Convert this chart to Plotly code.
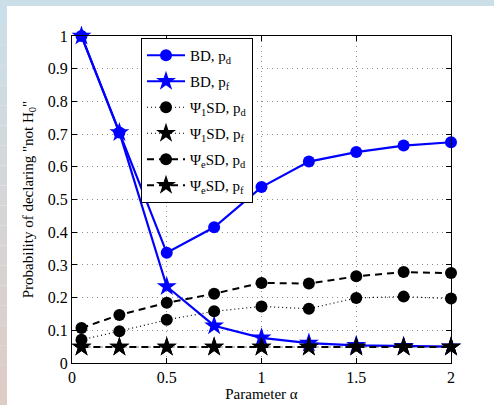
import plotly.graph_objects as go

alpha = [0.05, 0.25, 0.5, 0.75, 1.0, 1.25, 1.5, 1.75, 2.0]
bd_pd = [1.0, 0.705, 0.337, 0.415, 0.538, 0.616, 0.645, 0.665, 0.675]
bd_pf = [1.0, 0.705, 0.234, 0.114, 0.077, 0.061, 0.054, 0.051, 0.050]
psi1_pd = [0.071, 0.097, 0.132, 0.158, 0.173, 0.166, 0.199, 0.203, 0.197]
psi1_pf = [0.049, 0.049, 0.049, 0.049, 0.049, 0.049, 0.049, 0.049, 0.049]
psie_pd = [0.107, 0.147, 0.184, 0.212, 0.245, 0.243, 0.265, 0.278, 0.275]
psie_pf = [0.049, 0.049, 0.049, 0.049, 0.049, 0.049, 0.049, 0.049, 0.049]

names = ["BD, p<sub>d</sub>", "BD, p<sub>f</sub>",
         "Ψ<sub>1</sub>SD, p<sub>d</sub>", "Ψ<sub>1</sub>SD, p<sub>f</sub>",
         "Ψ<sub>e</sub>SD, p<sub>d</sub>", "Ψ<sub>e</sub>SD, p<sub>f</sub>"]
series = [bd_pd, bd_pf, psi1_pd, psi1_pf, psie_pd, psie_pf]
colors = ["#0000ff", "#0000ff", "black", "black", "black", "black"]
dashes = ["solid", "solid", "1px,3px", "1px,3px", "7px,5px", "7px,5px"]
widths = [2.2, 2.2, 1.2, 1.2, 2.0, 2.0]
symbols = ["circle", "star", "circle", "star", "circle", "star"]
sizes = [12, 15, 12, 15, 12, 15]

fig = go.Figure()
for i, (nm, ys) in enumerate(zip(names, series)):
    fig.add_trace(go.Scatter(
        x=alpha, y=ys, name=nm, mode="lines+markers",
        line=dict(color=colors[i], dash=dashes[i], width=widths[i]),
        marker=dict(symbol=symbols[i], size=sizes[i], color=colors[i],
                    line=dict(width=0)),
        cliponaxis=False, legendgroup=f"g{i}"))

W, H = 494, 405
ml, mr, mt, mb = 72, 43, 36, 42
pw, ph = W - ml - mr, H - mt - mb

def px_x(p):
    return (p - ml) / pw

def px_y(p):
    return (H - mb - p) / ph

shapes = []
# left gradient strip
top = (203, 223, 232)
bot = (222, 204, 198)
n = 20
for k in range(n):
    t = k / (n - 1)
    c = tuple(int(round(top[j] + (bot[j] - top[j]) * t)) for j in range(3))
    shapes.append(dict(type="rect", xref="paper", yref="paper",
                       x0=px_x(0), x1=px_x(7),
                       y0=px_y(6 + (H - 6) * k / n), y1=px_y(6 + (H - 6) * (k + 1) / n),
                       fillcolor=f"rgb{c}", line=dict(width=0), layer="below"))
# top strip
shapes.append(dict(type="rect", xref="paper", yref="paper",
                   x0=px_x(0), x1=px_x(W), y0=px_y(0), y1=px_y(6),
                   fillcolor="rgb(203,223,232)", line=dict(width=0), layer="below"))

axis_common = dict(ticks="inside", ticklen=5, tickcolor="black",
                   showline=True, linecolor="black", linewidth=1.3, mirror="ticks",
                   showgrid=True, gridcolor="#8c8c8c", griddash="1px,4px", gridwidth=1,
                   zeroline=False, tickfont=dict(size=16), automargin=False)

fig.update_layout(
    width=W, height=H,
    margin=dict(l=ml, r=mr, t=mt, b=mb, pad=0, autoexpand=False),
    paper_bgcolor="white", plot_bgcolor="white",
    font=dict(family="Liberation Serif, Times New Roman, serif", size=16, color="black"),
    shapes=shapes,
    showlegend=True,
    legend=dict(x=px_x(141), y=px_y(38), xanchor="left", yanchor="top",
                bgcolor="white", bordercolor="black", borderwidth=1,
                font=dict(size=15), itemwidth=38, tracegroupgap=3.5,
                traceorder="grouped"),
    xaxis=dict(range=[0, 2], tickvals=[0, 0.5, 1, 1.5, 2],
               ticktext=["0", "0.5", "1", "1.5", "2"],
               title=dict(text="Parameter α", font=dict(size=15), standoff=0),
               **axis_common),
    yaxis=dict(range=[0, 1], tickvals=[i / 10 for i in range(11)],
               ticktext=["0", "0.1", "0.2", "0.3", "0.4", "0.5", "0.6", "0.7", "0.8", "0.9", "1"],
               title=dict(text='Probability of declaring "not H<sub>0</sub>"',
                          font=dict(size=15), standoff=10),
               **axis_common),
)

fig.write_html("out.html", config={"displayModeBar": False},
               post_script="document.body.style.margin='0';document.body.style.overflow='hidden';")
